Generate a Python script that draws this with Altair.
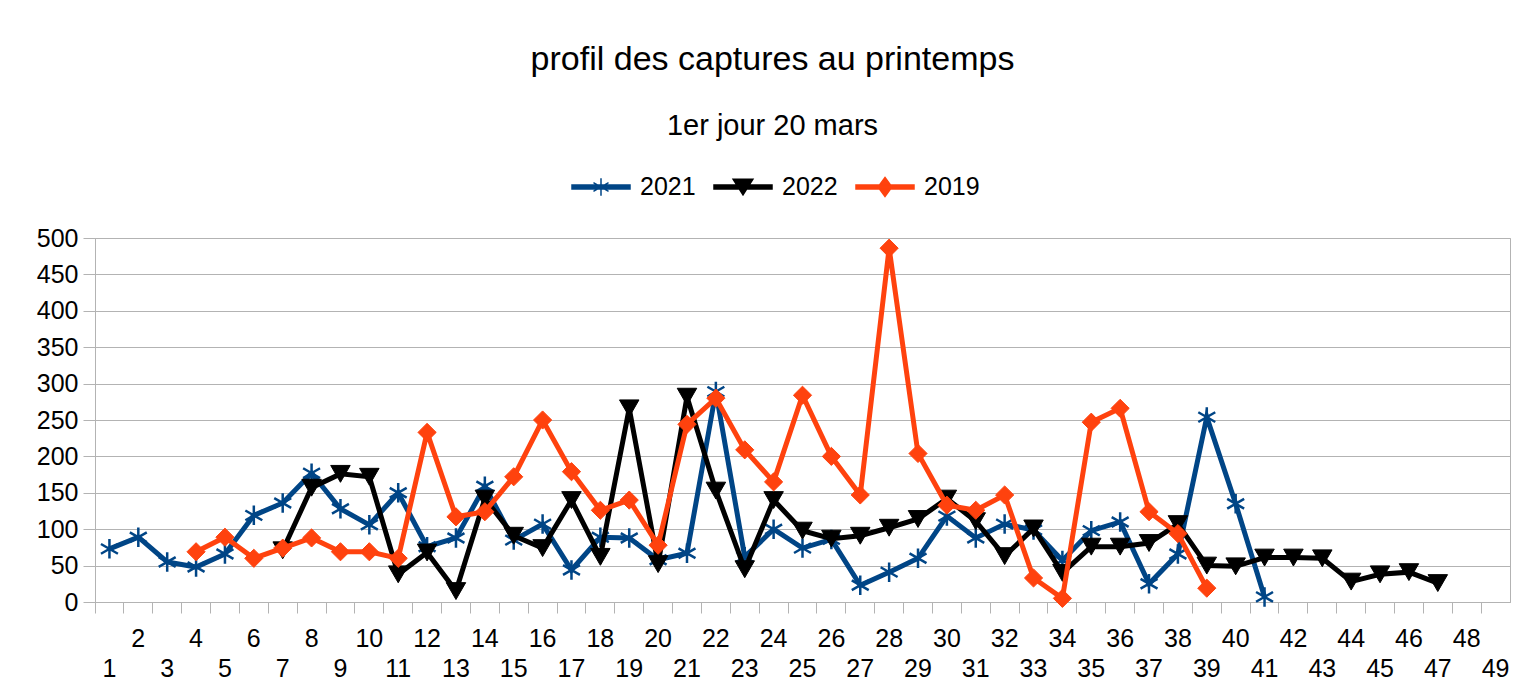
import altair as alt
import pandas as pd

# ---- data ----
days = list(range(1, 50))
years = ["2021", "2022", "2019"]
colors = ["#004586", "#000000", "#ff420e"]

start_2021 = 1
values_2021 = [73, 89, 55, 48, 66, 119, 136, 177, 128, 106,
               150, 76, 88, 159, 85, 107, 44, 89, 88, 58,
               67, 289, 62, 100, 74, 86, 23, 41, 60, 118,
               88, 107, 99, 57, 98, 110, 25, 66, 254, 135, 7]

start_2022 = 7
values_2022 = [71, 157, 176, 172, 38, 68, 15, 142, 91, 74,
               140, 62, 266, 52, 282, 153, 45, 140, 98, 87,
               91, 102, 114, 142, 111, 63, 101, 40, 76, 76,
               81, 107, 50, 49, 61, 61, 60, 28, 38, 41, 26]

start_2019 = 4
values_2019 = [69, 89, 60, 74, 88, 69, 69, 60, 233, 117,
               124, 172, 250, 179, 126, 140, 78, 244, 280, 209,
               165, 284, 200, 147, 486, 204, 133, 126, 147, 33,
               5, 247, 266, 124, 94, 19]

y_ticks = list(range(0, 501, 50))

rows = []
for year, start, vals in [("2021", start_2021, values_2021),
                          ("2022", start_2022, values_2022),
                          ("2019", start_2019, values_2019)]:
    for i, v in enumerate(vals):
        rows.append({"day": start + i, "captures": v, "year": year})
df = pd.DataFrame(rows)

FONT = "Liberation Sans"
GREY = "#b3b3b3"

asterisk = "M0,-1L0,1M-0.87,-0.5L0.87,0.5M-0.87,0.5L0.87,-0.5"
marker_shape = {"2021": asterisk, "2022": "triangle-down", "2019": "diamond"}
marker_size = {"2021": 380, "2022": 380, "2019": 330}
marker_stroke = {"2021": 2.5, "2022": 1, "2019": 1}

# legend symbols: line segment + marker
bar = "M-1,-0.07L1,-0.07L1,0.07L-1,0.07Z"
legend_paths = [
    bar + "M0,-0.3L0,0.3M-0.26,-0.15L0.26,0.15M-0.26,0.15L0.26,-0.15",
    bar + "M-0.34,-0.27L0.34,-0.27L0,0.27Z",
    bar + "M0,-0.33L0.24,0L0,0.33L-0.24,0Z",
]

x_enc = alt.X(
    "day:O",
    title=None,
    scale=alt.Scale(type="band", domain=days, paddingInner=0, paddingOuter=0),
    axis=alt.Axis(
        bandPosition=0,
        tickSize=11,
        labelAngle=0,
        labelPadding=13,
        labelBaseline="top",
        labelLineHeight=30,
        labelOverlap=False,
        labelExpr="datum.value % 2 == 0 ? [datum.label, ''] : ['', datum.label]",
        grid=False,
    ),
)
y_enc = alt.Y(
    "captures:Q",
    title=None,
    scale=alt.Scale(domain=[0, 500], nice=False),
    axis=alt.Axis(values=y_ticks, tickSize=12, labelPadding=5, grid=True),
)

layers = []
for year, color in zip(years, colors):
    base = alt.Chart(df).transform_filter(alt.datum.year == year)
    layers.append(base.mark_line(color=color, strokeWidth=5).encode(x=x_enc, y=y_enc))
    layers.append(
        base.mark_point(
            shape=marker_shape[year], filled=True, fill=color, stroke=color,
            strokeWidth=marker_stroke[year], size=marker_size[year], opacity=1,
        ).encode(x=x_enc, y=y_enc)
    )

leg = alt.Legend(
    title=None, orient="none", direction="horizontal",
    legendX=476, legendY=-81, padding=0,
    symbolSize=3364, symbolStrokeWidth=1.5,
    labelFont=FONT, labelFontSize=25, labelColor="black",
    labelOffset=9, columnPadding=15,
)
legend_layer = (
    alt.Chart(df)
    .transform_filter("false")
    .mark_point(filled=True, opacity=1, strokeWidth=1.5)
    .encode(
        x=x_enc, y=y_enc,
        fill=alt.Fill("year:N", scale=alt.Scale(domain=years, range=colors), legend=leg),
        stroke=alt.Stroke("year:N", scale=alt.Scale(domain=years, range=colors), legend=leg),
        shape=alt.Shape("year:N", scale=alt.Scale(domain=years, range=legend_paths), legend=leg),
    )
)
layers.append(legend_layer)

chart = (
    alt.layer(*layers)
    .properties(
        width=1415,
        height=364,
        autosize=alt.AutoSizeParams(type="none"),
        padding={"left": 87, "top": 230, "right": 13, "bottom": 80},
        background="white",
        title=alt.TitleParams(
            text="profil des captures au printemps",
            subtitle="1er jour 20 mars",
            font=FONT, fontSize=34, fontWeight="normal", color="black",
            subtitleFont=FONT, subtitleFontSize=29, subtitleColor="black",
            subtitlePadding=35, anchor="middle", frame="group",
            offset=16, dx=-30,
        ),
    )
    .configure_view(stroke=GREY, strokeWidth=1)
    .configure_axis(
        domainColor=GREY, tickColor=GREY, gridColor=GREY,
        labelFont=FONT, labelFontSize=25, labelColor="black",
    )
)

chart.save("out.html", embed_options={"renderer": "svg", "actions": False})
